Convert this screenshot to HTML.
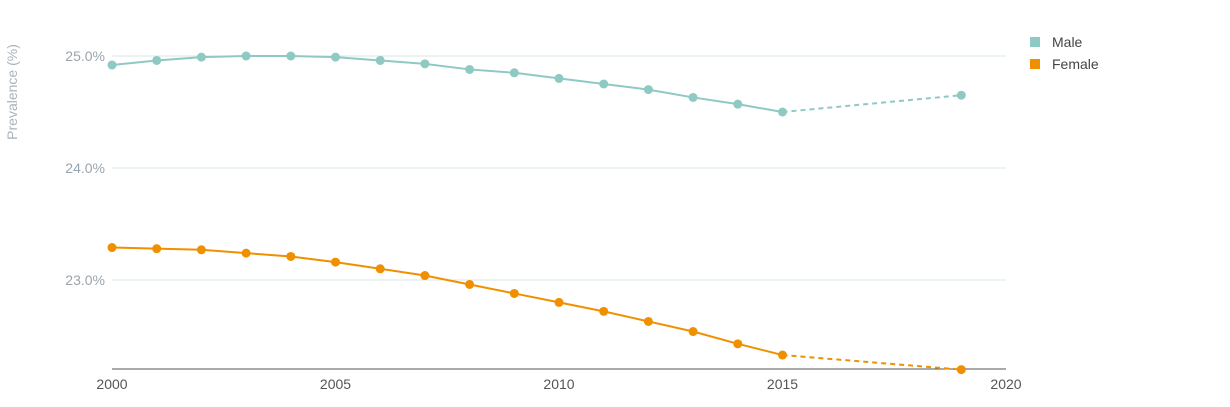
<!DOCTYPE html>
<html><head><meta charset="utf-8"><style>
body{margin:0;background:#fff;font-family:"Liberation Sans",sans-serif}
svg text{font-family:"Liberation Sans",sans-serif}
</style></head><body>
<svg id="c" width="1230" height="402"></svg>
<script>
const years=[2000,2001,2002,2003,2004,2005,2006,2007,2008,2009,2010,2011,2012,2013,2014,2015,2019];
const male=[24.92,24.96,24.99,25.00,25.00,24.99,24.96,24.93,24.88,24.85,24.80,24.75,24.70,24.63,24.57,24.50,24.65];
const female=[23.29,23.28,23.27,23.24,23.21,23.16,23.10,23.04,22.96,22.88,22.80,22.72,22.63,22.54,22.43,22.33,22.20];
const yTicks=[23.0,24.0,25.0];
const yTickLabels=["23.0%","24.0%","25.0%"];
const xTicks=[2000,2005,2010,2015,2020];
const svg=document.getElementById('c');const NS='http://www.w3.org/2000/svg';
const x=v=>112+(v-2000)*(1006-112)/20;
const y=v=>56+(25-v)*112;
function mk(t,a,p){const e=document.createElementNS(NS,t);for(const k in a)e.setAttribute(k,a[k]);(p||svg).appendChild(e);return e;}
yTicks.forEach((t,i)=>{
 const g=mk('line',{x1:112,x2:1006,y1:y(t),y2:y(t),stroke:'#d6e6e4','stroke-width':1});
 
 
 const l=mk('text',{x:105,y:y(t)+5,'text-anchor':'end','font-size':14,fill:'#9aa5ad'});l.textContent=yTickLabels[i];
 
 
});
const ax=mk('line',{x1:112,x2:1006,y1:369,y2:369,stroke:'#555','stroke-width':1});


xTicks.forEach(t=>{
 const l=mk('text',{x:x(t),y:389,'text-anchor':'middle','font-size':14,fill:'#555'});l.textContent=t;
 
 
});
const yt=mk('text',{x:17,y:92,'text-anchor':'middle','font-size':14,fill:'#aab4ba',transform:'rotate(-90 17 92)'});yt.textContent='Prevalence (%)';


function series(vals,col,name){
 const n=vals.length;
 let d='';for(let i=0;i<n-1;i++)d+=(i?'L':'M')+x(years[i])+','+y(vals[i]);
 const p=mk('path',{d:d,fill:'none',stroke:col,'stroke-width':2});
 
 
 const q=mk('path',{d:'M'+x(years[n-2])+','+y(vals[n-2])+'L'+x(years[n-1])+','+y(vals[n-1]),fill:'none',stroke:col,'stroke-width':2,'stroke-dasharray':'5,4'});
 
 
 vals.forEach((v,i)=>{const c=mk('circle',{cx:x(years[i]),cy:y(v),r:4.5,fill:col});
 
 });
}
series(male,'#8fc9c4','male');
series(female,'#f09000','female');
[['Male','#8fc9c4',42],['Female','#f09000',64]].forEach(([t,c,yy])=>{
 const r=mk('rect',{x:1030,y:yy-5,width:10,height:10,fill:c});
 
 
 const l=mk('text',{x:1052,y:yy+5,'font-size':14,fill:'#444'});l.textContent=t;
 
 
});
</script>
</body></html>
